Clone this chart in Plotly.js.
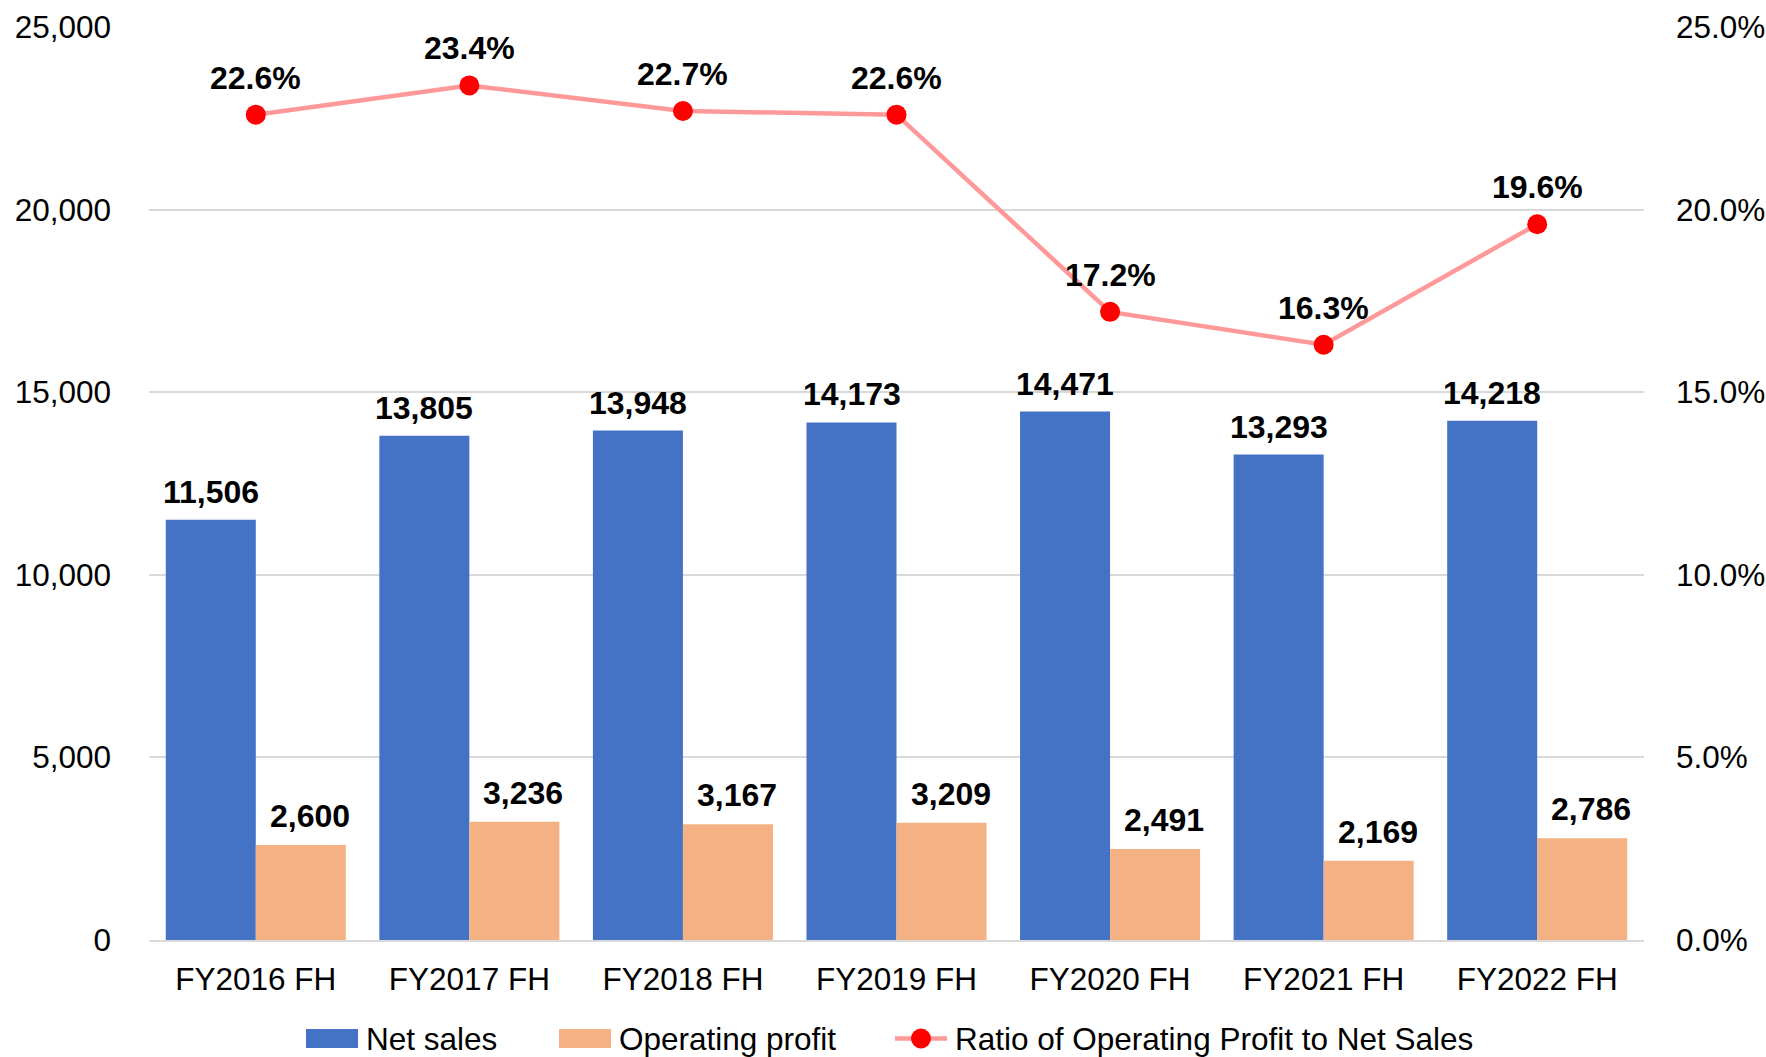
<!DOCTYPE html>
<html>
<head>
<meta charset="utf-8">
<script src="https://cdn.plot.ly/plotly-3.0.1.min.js"></script>
<style>
  html, body { margin: 0; padding: 0; background: #ffffff; }
  #chart { width: 1766px; height: 1057px; }
</style>
</head>
<body>
<div id="chart"></div>
<script>
// ---- Data ----
const categories = ["FY2016 FH", "FY2017 FH", "FY2018 FH", "FY2019 FH", "FY2020 FH", "FY2021 FH", "FY2022 FH"];
const netSales = [11506, 13805, 13948, 14173, 14471, 13293, 14218];
const operatingProfit = [2600, 3236, 3167, 3209, 2491, 2169, 2786];
const ratio = [0.226, 0.234, 0.227, 0.226, 0.172, 0.163, 0.196];
const seriesNames = ["Net sales", "Operating profit", "Ratio of Operating Profit to Net Sales"];

// ---- Styles ----
const FONT = "Liberation Sans, Arial, sans-serif";
const BLUE = "#4472C4";
const ORANGE = "#F4B183";
const LINE = "#FF9999";
const DOT = "#FF0000";
const GRID = "#D9D9D9";

const W = 1766, H = 1057;
const M = { l: 149, r: 122, t: 27, b: 117 };
const PW = W - M.l - M.r, PH = H - M.t - M.b;
const px2x = px => (px - M.l) / PW;
const px2y = py => (H - M.b - py) / PH;

const traces = [
  {
    type: "bar", name: seriesNames[0], x: categories, y: netSales,
    marker: { color: BLUE }, hoverinfo: "skip", showlegend: false
  },
  {
    type: "bar", name: seriesNames[1], x: categories, y: operatingProfit,
    marker: { color: ORANGE }, hoverinfo: "skip", showlegend: false
  },
  {
    type: "scatter", mode: "lines+markers", name: seriesNames[2], x: categories, y: ratio,
    yaxis: "y2",
    line: { color: LINE, width: 4.5 },
    marker: { color: DOT, size: 20 },
    hoverinfo: "skip", showlegend: false
  }
];

const fmt = v => v.toLocaleString("en-US");
const labelFont = { family: FONT, size: 32, color: "#000000", weight: "bold" };
const annotations = [];
categories.forEach((c, i) => {
  annotations.push({
    x: c, y: netSales[i], xref: "x", yref: "y", text: "<b>" + fmt(netSales[i]) + "</b>",
    showarrow: false, xshift: -45, yshift: 28, yanchor: "middle", xanchor: "center", font: labelFont
  });
  annotations.push({
    x: c, y: operatingProfit[i], xref: "x", yref: "y", text: "<b>" + fmt(operatingProfit[i]) + "</b>",
    showarrow: false, xshift: 54, yshift: 29, yanchor: "middle", xanchor: "center", font: labelFont
  });
  annotations.push({
    x: c, y: ratio[i], xref: "x", yref: "y2", text: "<b>" + (ratio[i] * 100).toFixed(1) + "%</b>",
    showarrow: false, yshift: 37, yanchor: "middle", xanchor: "center", font: labelFont
  });
});

// ---- Excel-style legend drawn with shapes + annotations ----
const legendY = 1038.5;
const legendItems = [
  { name: seriesNames[0], kind: "bar", color: BLUE, x0: 306 },
  { name: seriesNames[1], kind: "bar", color: ORANGE, x0: 559 },
  { name: seriesNames[2], kind: "line", color: LINE, x0: 895 }
];
const shapes = [];
legendItems.forEach(it => {
  const sw = 52;
  if (it.kind === "bar") {
    shapes.push({
      type: "rect", xref: "paper", yref: "paper",
      x0: px2x(it.x0), x1: px2x(it.x0 + sw), y0: px2y(legendY + 9.5), y1: px2y(legendY - 9.5),
      fillcolor: it.color, line: { width: 0 }
    });
  } else {
    shapes.push({
      type: "line", xref: "paper", yref: "paper",
      x0: px2x(it.x0), x1: px2x(it.x0 + sw), y0: px2y(legendY), y1: px2y(legendY),
      line: { color: it.color, width: 4.5 }
    });
    shapes.push({
      type: "circle", xref: "paper", yref: "paper",
      x0: px2x(it.x0 + sw / 2 - 10), x1: px2x(it.x0 + sw / 2 + 10),
      y0: px2y(legendY + 10), y1: px2y(legendY - 10),
      fillcolor: DOT, line: { width: 0 }
    });
  }
  annotations.push({
    xref: "paper", yref: "paper", x: px2x(it.x0 + sw + 6), y: px2y(legendY),
    xanchor: "left", yanchor: "middle", showarrow: false, text: it.name,
    font: { family: FONT, size: 31.5, color: "#000000" }
  });
});

const layout = {
  width: W, height: H,
  margin: { l: M.l, r: M.r, t: M.t, b: M.b, pad: 0 },
  paper_bgcolor: "#ffffff", plot_bgcolor: "#ffffff",
  font: { family: FONT, size: 31.5, color: "#000000" },
  barmode: "group", bargap: 0.157, bargroupgap: 0,
  showlegend: false,
  xaxis: {
    type: "category", showgrid: false, zeroline: false,
    showline: true, linecolor: GRID, linewidth: 2,
    ticks: "", ticklabelstandoff: 10,
    tickfont: { family: FONT, size: 31.5, color: "#000000" },
    fixedrange: true
  },
  yaxis: {
    range: [0, 25000], dtick: 5000, tick0: 0, tickformat: ",d",
    showgrid: true, gridcolor: GRID, gridwidth: 2,
    zeroline: false, showline: false, ticks: "", ticklabelstandoff: 37,
    tickfont: { family: FONT, size: 31.5, color: "#000000" },
    fixedrange: true
  },
  yaxis2: {
    range: [0, 0.25], dtick: 0.05, tick0: 0, tickformat: ".1%",
    overlaying: "y", side: "right", showgrid: false, zeroline: false, showline: false,
    ticks: "", ticklabelstandoff: 31,
    tickfont: { family: FONT, size: 31.5, color: "#000000" },
    fixedrange: true
  },
  shapes: shapes,
  annotations: annotations
};

Plotly.newPlot("chart", traces, layout, { displayModeBar: false, staticPlot: true });
</script>
</body>
</html>
